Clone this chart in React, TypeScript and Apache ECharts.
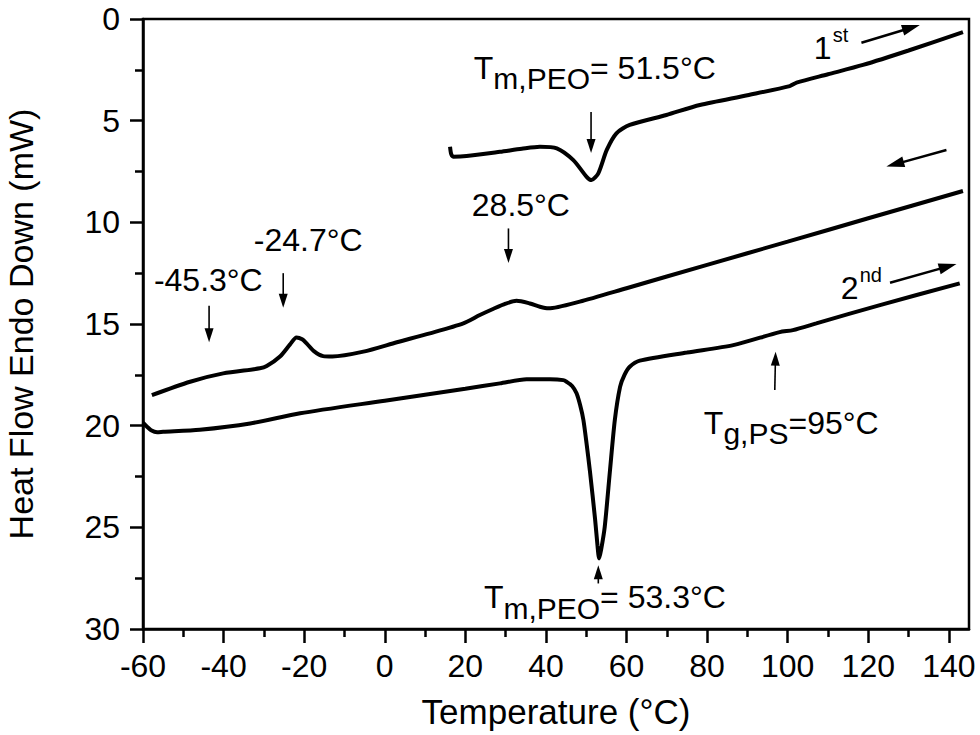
import React, { useEffect, useRef } from "react";
import * as echarts from "echarts";

const FONT = "'Liberation Sans', Arial, Helvetica, sans-serif";

// axis ticks
const xMajorTicks = [-60, -40, -20, 0, 20, 40, 60, 80, 100, 120, 140];
const xMinorTicks = [-50, -30, -10, 10, 30, 50, 70, 90, 110, 130];

// 1st heating
const heat1X = [16.2, 16.5, 17.0, 20.3, 28.6, 34, 38.5, 42.7, 46.8, 50.1, 51.3, 53.0, 55.1, 57.5, 60.8, 69.9, 78.2, 90, 100.5, 102.2, 110, 118.7, 130, 143.5];
const heat1Y = [6.28, 6.65, 6.77, 6.74, 6.53, 6.38, 6.28, 6.36, 6.94, 7.76, 7.92, 7.59, 6.44, 5.62, 5.21, 4.72, 4.23, 3.75, 3.3, 3.13, 2.72, 2.26, 1.55, 0.65];

// cooling
const coolX = [-57.8, -48.3, -40.1, -31.0, -29.3, -26, -23.5, -21.9, -20.5, -19.4, -17.5, -15.3, -13, -5.3, 3, 11.2, 19.5, 23.6, 27, 30, 32.7, 36.0, 38.5, 40.6, 48.4, 60, 80, 100, 120, 143.5];
const coolY = [18.5, 17.84, 17.43, 17.18, 17.07, 16.6, 16.0, 15.66, 15.75, 15.95, 16.35, 16.58, 16.6, 16.36, 15.9, 15.46, 14.97, 14.56, 14.25, 14.0, 13.86, 13.99, 14.15, 14.23, 13.9, 13.24, 12.09, 10.95, 9.8, 8.46];

// 2nd heating
const heat2X = [-60, -59, -58, -56.5, -55, -45.9, -33.4, -21, 0, 20, 28.6, 35.2, 41, 44.3, 45.1, 46.5, 47.6, 48.5, 49.3, 50.1, 50.9, 52.2, 52.8, 53.2, 53.7, 54.6, 55.9, 57.1, 58.4, 59.5, 60.8, 63.3, 75, 86.5, 98, 101.3, 107.1, 122.9, 142.7];
const heat2Y = [19.85, 20.05, 20.22, 20.32, 20.3, 20.2, 19.89, 19.39, 18.77, 18.18, 17.92, 17.72, 17.72, 17.76, 17.84, 18.05, 18.41, 19.0, 19.72, 20.9, 22.2, 24.6, 25.9, 26.53, 26.1, 24.97, 22.2, 19.72, 18.09, 17.5, 17.1, 16.8, 16.4, 16.04, 15.4, 15.3, 14.97, 14.07, 13.0];

// annotation arrows (data coords: tail -> head)
const arrowFrom: [number, number][] = [[51.2, 4.57], [118.3, 1.17], [139.4, 6.44], [125.4, 12.97], [30.7, 10.3], [-25.2, 12.5], [-43.6, 14.1], [96.8, 18.25], [53.0, 27.76]];
const arrowTo: [number, number][] = [[51.2, 6.59], [132.8, 0.3], [124.5, 7.26], [141.9, 12.05], [30.7, 12.0], [-25.2, 14.2], [-43.6, 15.9], [97.0, 16.36], [53.0, 26.86]];
const arrowBig = [false, true, true, true, false, false, false, false, false];

// annotation texts
const plainLabels = ["28.5°C", "-24.7°C", "-45.3°C"];
const plainAt: [number, number][] = [[21.6, 9.17], [-32.5, 10.88], [-57.3, 12.85]];
const subLabels: [string, string, string][] = [["T", "m,PEO", "= 51.5°C"], ["T", "m,PEO", "= 53.3°C"], ["T", "g,PS", "=95°C"]];
const subAt: [number, number][] = [[22.1, 2.39], [24.6, 28.45], [79.2, 19.85]];
const supLabels: [string, string][] = [["1", "st"], ["2", "nd"]];
const supAt: [number, number][] = [[106.5, 1.45], [113.2, 13.21]];

export default function App() {
  const ref = useRef<HTMLDivElement>(null);

  useEffect(() => {
    const chart = echarts.init(ref.current!, null, { renderer: "svg" });
    const zip = (xs: number[], ys: number[]) => xs.map((x, i) => [x, ys[i]]);
    const lineSeries = (name: string, xs: number[], ys: number[]) => ({
      type: "line",
      name,
      data: zip(xs, ys),
      showSymbol: false,
      symbol: "none",
      smooth: 0.25,
      lineStyle: { color: "#000", width: 4 },
      itemStyle: { color: "#000" },
      z: 3,
    });

    const axisLine = { show: true, onZero: false, lineStyle: { color: "#000", width: 2.5 } };
    chart.setOption({
      animation: false,
      backgroundColor: "#fff",
      textStyle: { fontFamily: FONT },
      grid: {
        left: 143,
        right: 11,
        top: 19,
        bottom: 106,
        show: true,
        borderColor: "#000",
        borderWidth: 2.5,
        backgroundColor: "transparent",
        outerBoundsMode: "none",
      },
      xAxis: [
        {
          type: "value",
          min: -60,
          max: 145,
          position: "bottom",
          axisLine,
          axisTick: { show: true, inside: false, length: 14, customValues: xMajorTicks, lineStyle: { color: "#000", width: 2.5 } },
          axisLabel: { customValues: xMajorTicks, fontSize: 32, color: "#000", margin: 21, fontFamily: FONT },
          splitLine: { show: false },
          name: "Temperature (°C)",
          nameLocation: "middle",
          nameGap: 65,
          nameTextStyle: { fontSize: 35, color: "#000", fontFamily: FONT },
        },
        {
          type: "value",
          min: -60,
          max: 145,
          position: "bottom",
          axisLine: { show: false, onZero: false },
          axisTick: { show: true, inside: false, length: 8, customValues: xMinorTicks, lineStyle: { color: "#000", width: 2.5 } },
          axisLabel: { show: false },
          splitLine: { show: false },
        },
      ],
      yAxis: {
        type: "value",
        min: 0,
        max: 30,
        interval: 5,
        inverse: true,
        position: "left",
        axisLine,
        axisTick: { show: true, inside: false, length: 13, lineStyle: { color: "#000", width: 2.5 } },
        minorTick: { show: true, splitNumber: 2, length: 8, lineStyle: { color: "#000", width: 2.5 } },
        axisLabel: { fontSize: 32, color: "#000", margin: 23, fontFamily: FONT },
        splitLine: { show: false },
        minorSplitLine: { show: false },
        name: "Heat Flow Endo Down (mW)",
        nameLocation: "middle",
        nameGap: 105,
        nameTextStyle: { fontSize: 34, color: "#000", fontFamily: FONT },
      },
      series: [
        lineSeries("1st heating", heat1X, heat1Y),
        lineSeries("cooling", coolX, coolY),
        lineSeries("2nd heating", heat2X, heat2Y),
      ],
    });

    const toPx = (p: [number, number]) => chart.convertToPixel({ gridIndex: 0 }, p) as number[];
    const graphics: any[] = [];

    arrowFrom.forEach((from, i) => {
      const a = toPx(from);
      const b = toPx(arrowTo[i]);
      const big = arrowBig[i];
      const L = big ? 18 : 14;
      const W = big ? 5.5 : 4.5;
      const dx = b[0] - a[0];
      const dy = b[1] - a[1];
      const len = Math.hypot(dx, dy);
      const ux = dx / len;
      const uy = dy / len;
      const bx = b[0] - ux * L;
      const by = b[1] - uy * L;
      const nx = -uy;
      const ny = ux;
      graphics.push({
        type: "line",
        shape: { x1: a[0], y1: a[1], x2: bx + ux * 2, y2: by + uy * 2 },
        style: { stroke: "#000", lineWidth: big ? 2.5 : 1.6 },
        z: 10,
      });
      graphics.push({
        type: "polygon",
        shape: { points: [[b[0], b[1]], [bx + nx * W, by + ny * W], [bx - nx * W, by - ny * W]] },
        style: { fill: "#000" },
        z: 10,
      });
    });

    plainLabels.forEach((t, i) => {
      const p = toPx(plainAt[i]);
      graphics.push({
        type: "text",
        x: p[0],
        y: p[1],
        style: { text: t, fill: "#000", fontSize: 32, fontFamily: FONT, align: "left", verticalAlign: "middle" },
        z: 10,
      });
    });

    subLabels.forEach((parts, i) => {
      const p = toPx(subAt[i]);
      graphics.push({
        type: "text",
        x: p[0],
        y: p[1] - 16,
        style: {
          text: `{m|${parts[0]}}{s|${parts[1]}}{m|${parts[2]}}`,
          fill: "#000",
          fontSize: 32,
          fontFamily: FONT,
          align: "left",
          verticalAlign: "top",
          rich: {
            m: { fontSize: 32, fontFamily: FONT, fill: "#000", verticalAlign: "bottom", padding: [0, 0, 10, 0] },
            s: { fontSize: 30, fontFamily: FONT, fill: "#000", verticalAlign: "bottom" },
          },
        },
        z: 10,
      });
    });

    supLabels.forEach((parts, i) => {
      const p = toPx(supAt[i]);
      graphics.push({
        type: "text",
        x: p[0],
        y: p[1] - 23,
        style: {
          text: `{m|${parts[0]}}{u|${parts[1]}}`,
          fill: "#000",
          fontSize: 32,
          fontFamily: FONT,
          align: "left",
          verticalAlign: "top",
          rich: {
            m: { fontSize: 32, fontFamily: FONT, fill: "#000", verticalAlign: "bottom" },
            u: { fontSize: 20, fontFamily: FONT, fill: "#000", verticalAlign: "bottom", padding: [0, 0, 19, 1] },
          },
        },
        z: 10,
      });
    });

    chart.setOption({ graphic: graphics });

    return () => chart.dispose();
  }, []);

  return (
    <div
      ref={ref}
      style={{ position: "fixed", left: 0, top: 0, width: 980, height: 735, background: "#fff" }}
    />
  );
}
